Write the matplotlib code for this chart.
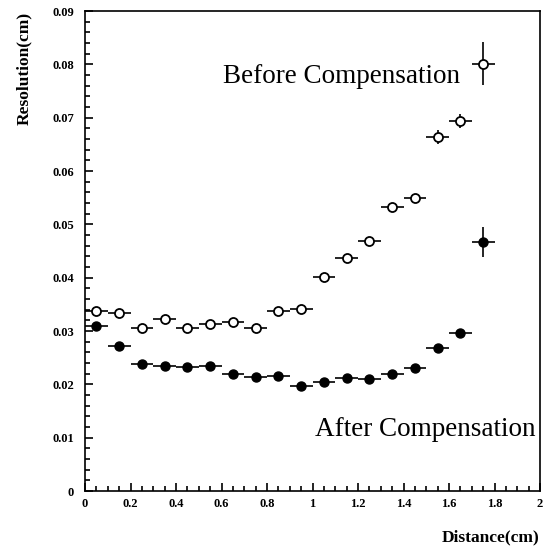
import matplotlib
matplotlib.use("Agg")
import matplotlib.pyplot as plt
from matplotlib.ticker import MultipleLocator, FormatStrFormatter

# Data
distance = [0.05, 0.15, 0.25, 0.35, 0.45, 0.55, 0.65, 0.75, 0.85, 0.95,
            1.05, 1.15, 1.25, 1.35, 1.45, 1.55, 1.65, 1.75]
before = [0.0337, 0.0334, 0.0306, 0.0323, 0.0306, 0.0313, 0.0317, 0.0305, 0.0337, 0.0342,
          0.0401, 0.0437, 0.0468, 0.0532, 0.0549, 0.0664, 0.0694, 0.0801]
before_err = [0.0005, 0.0005, 0.0005, 0.0005, 0.0005, 0.0005, 0.0005, 0.0005, 0.0005, 0.0005,
              0.0005, 0.0006, 0.0006, 0.0007, 0.0007, 0.0013, 0.0013, 0.0040]
after = [0.0309, 0.0272, 0.0238, 0.0235, 0.0233, 0.0235, 0.0220, 0.0214, 0.0215, 0.0197,
         0.0204, 0.0212, 0.0210, 0.0219, 0.0231, 0.0268, 0.0297, 0.0467]
after_err = [0.0004, 0.0004, 0.0004, 0.0004, 0.0004, 0.0004, 0.0004, 0.0004, 0.0004, 0.0004,
             0.0004, 0.0004, 0.0004, 0.0004, 0.0005, 0.0006, 0.0007, 0.0028]
x_half_width = 0.05

serif = ["Liberation Serif", "DejaVu Serif"]

fig = plt.figure(figsize=(5.48, 5.46), dpi=100)
ax = fig.add_axes([85/548, 1 - 491/546, 455/548, 480/546])

ax.errorbar(distance, before, xerr=x_half_width, yerr=before_err, fmt='o',
            mfc='white', mec='black', mew=1.3, ms=6.5, ecolor='black',
            elinewidth=1.2, capsize=0, zorder=3)
ax.errorbar(distance, after, xerr=x_half_width, yerr=after_err, fmt='o',
            mfc='black', mec='black', ms=6.5, ecolor='black',
            elinewidth=1.2, capsize=0, zorder=3)

ax.set_xlim(0, 2)
ax.set_ylim(0, 0.09)
ax.xaxis.set_major_locator(MultipleLocator(0.2))
ax.xaxis.set_minor_locator(MultipleLocator(0.05))
ax.yaxis.set_major_locator(MultipleLocator(0.01))
ax.yaxis.set_minor_locator(MultipleLocator(0.002))
ax.xaxis.set_major_formatter(FormatStrFormatter('%g'))
ax.yaxis.set_major_formatter(FormatStrFormatter('%g'))

ax.tick_params(which='both', direction='in', top=False, right=False, width=1.2)
ax.tick_params(which='major', length=6)
ax.tick_params(which='minor', length=3.5)
ax.tick_params(axis='y', which='major', pad=8)
ax.tick_params(axis='x', which='major', pad=5)
for lab in ax.get_xticklabels() + ax.get_yticklabels():
    lab.set_fontfamily(serif)
    lab.set_fontweight('bold')
    lab.set_fontsize(9)
for s in ax.spines.values():
    s.set_linewidth(1.2)

ax.text(0.607, 0.0765, "Before Compensation", family=serif, fontsize=19.5,
        ha='left', va='baseline')
ax.text(1.011, 0.0103, "After Compensation", family=serif, fontsize=19.5,
        ha='left', va='baseline')

fig.text(24/548, 1 - 12/546, "Resolution(cm)", family=serif, fontweight='bold',
         fontsize=12.5, rotation=90, ha='center', va='top')
fig.text(539/548, 1 - 537/546, "Distance(cm)", family=serif, fontweight='bold',
         fontsize=12.5, ha='right', va='center')

fig.savefig("out.png", dpi=100)
